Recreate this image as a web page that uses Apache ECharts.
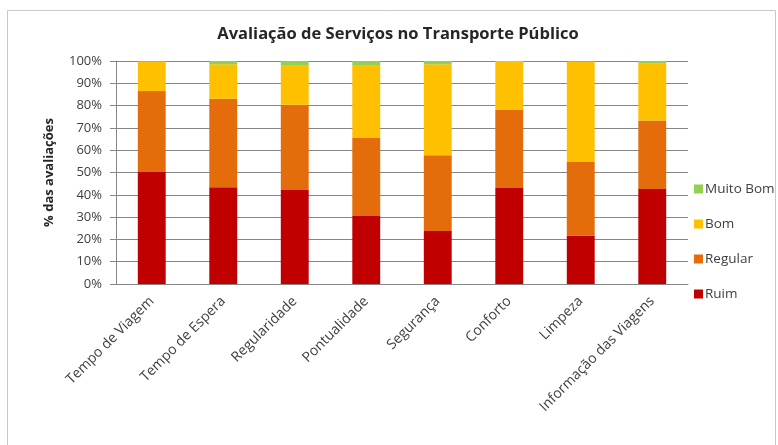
<!DOCTYPE html>
<html>
<head>
<meta charset="utf-8">
<script src="https://cdn.jsdelivr.net/npm/echarts@6/dist/echarts.min.js"></script>
<style>
  html, body { margin: 0; padding: 0; background: #ffffff; }
  #chart { width: 778px; height: 445px; }
</style>
</head>
<body>
<div id="chart"></div>
<script>
// Avaliação por serviço, em % das avaliações (cada coluna soma 100%)
const categories = ['Tempo de Viagem', 'Tempo de Espera', 'Regularidade', 'Pontualidade',
                    'Segurança', 'Conforto', 'Limpeza', 'Informação das Viagens'];
const ruim     = [50.2, 43.4, 42.1, 30.5, 23.8, 43.1, 21.7, 42.6];
const regular  = [36.3, 39.7, 38.3, 35.0, 33.9, 35.1, 33.0, 30.7];
const bom      = [13.2, 15.4, 17.8, 32.7, 40.8, 21.8, 45.0, 25.5];
const muitoBom = [0.3, 1.5, 1.8, 1.8, 1.5, 0.0, 0.3, 1.2];
const yTicks   = [0, 10, 20, 30, 40, 50, 60, 70, 80, 90, 100];

const FONT = '"Open Sans", Lato, sans-serif';
const chart = echarts.init(document.getElementById('chart'));

function stack(name, data, color) {
  return {
    name, type: 'bar', stack: 'total', data,
    barWidth: '39%',
    itemStyle: { color },
    emphasis: { disabled: true }
  };
}

chart.setOption({
  animation: false,
  backgroundColor: '#ffffff',
  graphic: [{
    type: 'rect', left: 5, top: 8, silent: true,
    shape: { width: 768, height: 445 },
    style: { fill: 'none', stroke: '#c8c8c8', lineWidth: 1 }
  }],
  title: {
    text: 'Avaliação de Serviços no Transporte Público',
    left: 393, top: 21, textAlign: 'center',
    textStyle: { fontFamily: FONT, fontSize: 16.5, fontWeight: 'bold', color: '#262626' }
  },
  legend: {
    orient: 'vertical', left: 689, top: 177,
    itemWidth: 9, itemHeight: 9, itemGap: 21,
    icon: 'rect',
    data: ['Muito Bom', 'Bom', 'Regular', 'Ruim'],
    textStyle: { fontFamily: FONT, fontSize: 13.5, color: '#404040', padding: [0, 0, 0, -3] }
  },
  grid: { left: 116, right: 90, top: 61, bottom: 161 },
  xAxis: {
    type: 'category', data: categories,
    axisLine: { lineStyle: { color: '#868686' } },
    axisTick: { alignWithLabel: false, length: 5, lineStyle: { color: '#868686' } },
    axisLabel: {
      rotate: 45, interval: 0, margin: 15,
      fontFamily: FONT, fontSize: 14, color: '#404040'
    }
  },
  yAxis: {
    type: 'value', min: 0, max: 100, interval: 10,
    name: '% das avaliações', nameLocation: 'middle', nameGap: 60, nameRotate: 90,
    nameTextStyle: { fontFamily: FONT, fontSize: 13, fontWeight: 'bold', color: '#262626' },
    axisLine: { show: true, lineStyle: { color: '#868686' } },
    axisTick: { show: true, length: 6, lineStyle: { color: '#868686' } },
    splitLine: { lineStyle: { color: '#868686' } },
    axisLabel: {
      margin: 14, fontFamily: FONT, fontSize: 13, color: '#404040',
      customValues: yTicks,
      formatter: v => v + '%'
    }
  },
  series: [
    stack('Ruim', ruim, '#C00000'),
    stack('Regular', regular, '#E46C0A'),
    stack('Bom', bom, '#FFC000'),
    stack('Muito Bom', muitoBom, '#92D050')
  ]
});
</script>
</body>
</html>
